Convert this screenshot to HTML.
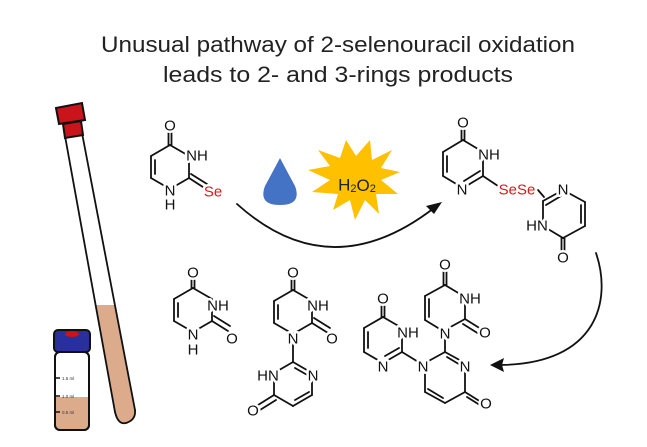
<!DOCTYPE html>
<html><head><meta charset="utf-8"><style>
html,body{margin:0;padding:0;background:#fff}
svg{display:block}
.t{font-family:"Liberation Sans",sans-serif;font-size:15px;fill:#111;paint-order:stroke;stroke:#fff;stroke-width:5px;stroke-linejoin:round;text-anchor:middle;dominant-baseline:central}
.se{fill:#d41c1c}
.b{stroke:#111;stroke-width:1.8;fill:none;stroke-linecap:round}
</style></head><body>
<svg width="647" height="447" viewBox="0 0 647 447" xmlns="http://www.w3.org/2000/svg">
<text x="338" y="52" font-family="Liberation Sans, sans-serif" font-size="22" fill="#222" text-anchor="middle" textLength="474" lengthAdjust="spacingAndGlyphs">Unusual pathway of 2-selenouracil oxidation</text>
<text x="338" y="82" font-family="Liberation Sans, sans-serif" font-size="22" fill="#222" text-anchor="middle" textLength="350" lengthAdjust="spacingAndGlyphs">leads to 2- and 3-rings products</text>

<!-- tube -->
<path d="M96,305 L115,305 L135,410 Q136,423 125,423 Q116,422 115,412 Z" fill="#dcab8c"/>
<line x1="65" y1="136" x2="115" y2="412" class="b" stroke-width="2.5"/>
<line x1="82" y1="133" x2="135" y2="410" class="b" stroke-width="2.5"/>
<path d="M115,412 Q118,425 126,423 Q136,420 135,410" class="b" stroke-width="2.5"/>
<polygon points="56,108 82,103 85,120 59,124" fill="#c8141a" stroke="#111" stroke-width="2"/>
<polygon points="63,124 81,121 83,135 65,138" fill="#c8141a" stroke="#111" stroke-width="2"/>

<!-- vial -->
<rect x="55" y="352" width="34" height="78" rx="5" fill="#fff" stroke="#111" stroke-width="2"/>
<path d="M56,397 H88 V425 Q88,429 84,429 H60 Q56,429 56,425 Z" fill="#dcab8c"/>
<rect x="55" y="352" width="34" height="78" rx="5" fill="none" stroke="#111" stroke-width="2"/>
<rect x="54" y="330" width="36" height="22" rx="4" fill="#2a2f9e" stroke="#111" stroke-width="2"/>
<ellipse cx="72" cy="334" rx="7" ry="3" fill="#c8141a"/>
<g stroke="#111" stroke-width="1.5"><line x1="55" y1="378" x2="60" y2="378"/><line x1="55" y1="396" x2="60" y2="396"/><line x1="55" y1="412" x2="60" y2="412"/></g>
<g font-family="Liberation Sans, sans-serif" font-size="4.5" fill="#333"><text x="62" y="380">1.5 ml</text><text x="62" y="398">1.0 ml</text><text x="62" y="414">0.5 ml</text></g>

<!-- drop -->
<path d="M280,158 Q271,175 265,186 Q258,205 280,205 Q302,205 295,186 Q289,175 280,158 Z" fill="#4472c4"/>
<!-- star -->
<polygon fill="#ffc000" points="370,140 372,160 392,150 381,168 400,172 381,180 398,194 376,194 379,214 365,200 355,220 350,200 333,210 338,194 312,192 330,180 308,170 330,166 318,150 340,158 346,140 356,156" />
<text x="357" y="185" font-family="Liberation Sans, sans-serif" font-size="17" fill="#222" text-anchor="middle" dominant-baseline="central">H<tspan font-size="11" dy="4">2</tspan><tspan dy="-4">O</tspan><tspan font-size="11" dy="4">2</tspan></text>

<!-- arrows -->
<path d="M237,204 Q330,288 434,208" class="b" stroke-width="2"/>
<polygon points="442,202 426,206 434,214" fill="#111"/>
<path d="M596,253 C612,300 598,364 500,365" class="b" stroke-width="2"/>
<polygon points="490,365 504,358 502,365 504,372" fill="#111"/>

<!-- selenouracil -->
<g class="b">
<line x1="170" y1="145" x2="189" y2="156"/><line x1="189" y1="156" x2="189" y2="178"/><line x1="189" y1="178" x2="170" y2="189"/>
<line x1="170" y1="189" x2="151" y2="178"/><line x1="151" y1="178" x2="151" y2="156"/><line x1="155" y1="174" x2="155" y2="160"/><line x1="151" y1="156" x2="170" y2="145"/>
<line x1="168.5" y1="145" x2="168.5" y2="130"/><line x1="171.5" y1="145" x2="171.5" y2="130"/><line x1="189" y1="178" x2="206" y2="189"/><line x1="191" y1="174" x2="207" y2="184"/>
</g>
<text class="t" x="170" y="126">O</text><text class="t" x="197" y="156">NH</text><text class="t" x="170" y="191">N</text><text class="t" x="170" y="205">H</text><text class="t se" x="213" y="192">Se</text>

<!-- diselenide -->
<g class="b">
<line x1="463" y1="140" x2="483" y2="152"/><line x1="483" y1="152" x2="483" y2="176"/><line x1="483" y1="176" x2="463" y2="188"/><line x1="480" y1="171" x2="464" y2="181"/>
<line x1="463" y1="188" x2="443" y2="176"/><line x1="443" y1="176" x2="443" y2="152"/><line x1="447" y1="172" x2="447" y2="156"/><line x1="443" y1="152" x2="463" y2="140"/>
<line x1="461.5" y1="140" x2="461.5" y2="127"/><line x1="464.5" y1="140" x2="464.5" y2="127"/><line x1="483" y1="176" x2="498" y2="186"/>
<line x1="538" y1="190" x2="544" y2="197"/>
<line x1="543" y1="201" x2="563" y2="190"/><line x1="546" y1="205" x2="561" y2="196"/><line x1="563" y1="190" x2="585" y2="202"/><line x1="585" y1="202" x2="585" y2="226"/><line x1="581" y1="205" x2="581" y2="223"/>
<line x1="585" y1="226" x2="563" y2="238"/><line x1="563" y1="238" x2="543" y2="226"/><line x1="543" y1="226" x2="543" y2="201"/><line x1="561.5" y1="238" x2="561.5" y2="253"/><line x1="564.5" y1="238" x2="564.5" y2="253"/>
</g>
<text class="t" x="463" y="123">O</text><text class="t" x="489" y="155">NH</text><text class="t" x="462" y="190">N</text>
<text class="t se" x="517" y="190">SeSe</text>
<text class="t" x="563" y="190">N</text><text class="t" x="537" y="226">HN</text><text class="t" x="563" y="258">O</text>

<!-- uracil -->
<g class="b">
<line x1="193" y1="288" x2="212" y2="299"/><line x1="212" y1="299" x2="212" y2="321"/><line x1="212" y1="321" x2="193" y2="332"/><line x1="193" y1="332" x2="174" y2="321"/>
<line x1="174" y1="321" x2="174" y2="299"/><line x1="178" y1="317" x2="178" y2="303"/><line x1="174" y1="299" x2="193" y2="288"/>
<line x1="191.5" y1="288" x2="191.5" y2="277"/><line x1="194.5" y1="288" x2="194.5" y2="277"/><line x1="212" y1="321" x2="228" y2="331"/><line x1="214" y1="316" x2="230" y2="326"/>
</g>
<text class="t" x="193" y="273">O</text><text class="t" x="218" y="306">NH</text><text class="t" x="193" y="335">N</text><text class="t" x="193" y="350">H</text><text class="t" x="232" y="339">O</text>

<!-- 2-ring product -->
<g class="b">
<line x1="293" y1="290" x2="312" y2="301"/><line x1="312" y1="301" x2="312" y2="323"/><line x1="312" y1="323" x2="293" y2="334"/><line x1="293" y1="334" x2="274" y2="323"/>
<line x1="274" y1="323" x2="274" y2="301"/><line x1="278" y1="319" x2="278" y2="305"/><line x1="274" y1="301" x2="293" y2="290"/>
<line x1="291.5" y1="290" x2="291.5" y2="279"/><line x1="294.5" y1="290" x2="294.5" y2="279"/><line x1="312" y1="323" x2="328" y2="333"/><line x1="314" y1="318" x2="330" y2="328"/>
<line x1="293" y1="340" x2="293" y2="362"/>
<line x1="293" y1="362" x2="312" y2="373"/><line x1="295" y1="368" x2="309" y2="376"/><line x1="312" y1="373" x2="312" y2="395"/><line x1="312" y1="395" x2="293" y2="406"/><line x1="309" y1="392" x2="295" y2="400"/>
<line x1="293" y1="406" x2="274" y2="395"/><line x1="274" y1="395" x2="274" y2="373"/><line x1="274" y1="373" x2="293" y2="362"/>
<line x1="274" y1="395" x2="258" y2="405"/><line x1="276" y1="400" x2="260" y2="410"/>
</g>
<text class="t" x="293" y="273">O</text><text class="t" x="318" y="306">NH</text><text class="t" x="293" y="339">N</text><text class="t" x="332" y="339">O</text>
<text class="t" x="268" y="376">HN</text><text class="t" x="313" y="376">N</text><text class="t" x="253" y="411">O</text>

<!-- 3-ring product -->
<g class="b">
<line x1="383" y1="317" x2="402" y2="328"/><line x1="402" y1="328" x2="402" y2="352"/><line x1="402" y1="352" x2="383" y2="363"/><line x1="399" y1="348" x2="385" y2="356"/>
<line x1="383" y1="363" x2="364" y2="352"/><line x1="364" y1="352" x2="364" y2="328"/><line x1="368" y1="348" x2="368" y2="332"/><line x1="364" y1="328" x2="383" y2="317"/>
<line x1="381.5" y1="317" x2="381.5" y2="304"/><line x1="384.5" y1="317" x2="384.5" y2="304"/><line x1="402" y1="352" x2="420" y2="363"/>
<line x1="425" y1="363" x2="445" y2="352"/><line x1="445" y1="352" x2="465" y2="363"/><line x1="447" y1="357" x2="462" y2="366"/>
<line x1="465" y1="368" x2="465" y2="392"/><line x1="465" y1="392" x2="445" y2="403"/><line x1="445" y1="403" x2="425" y2="392"/><line x1="443" y1="398" x2="428" y2="389"/><line x1="425" y1="392" x2="425" y2="368"/>
<line x1="465" y1="392" x2="481" y2="402"/><line x1="467" y1="397" x2="483" y2="407"/>
<line x1="445" y1="352" x2="445" y2="338"/>
<line x1="445" y1="330" x2="465" y2="319"/><line x1="465" y1="319" x2="465" y2="303"/><line x1="465" y1="319" x2="481" y2="329"/><line x1="463" y1="324" x2="479" y2="334"/>
<line x1="465" y1="297" x2="445" y2="285"/><line x1="445" y1="285" x2="425" y2="296"/><line x1="425" y1="296" x2="425" y2="320"/><line x1="429" y1="299" x2="429" y2="317"/><line x1="425" y1="320" x2="443" y2="331"/>
<line x1="443.5" y1="285" x2="443.5" y2="270"/><line x1="446.5" y1="285" x2="446.5" y2="270"/>
</g>
<text class="t" x="383" y="299">O</text><text class="t" x="408" y="333">NH</text><text class="t" x="383" y="367">N</text>
<text class="t" x="423" y="367">N</text><text class="t" x="465" y="367">N</text><text class="t" x="486" y="404">O</text>
<text class="t" x="445" y="334">N</text><text class="t" x="470" y="299">NH</text><text class="t" x="485" y="333">O</text><text class="t" x="445" y="265">O</text>
</svg>
</body></html>
